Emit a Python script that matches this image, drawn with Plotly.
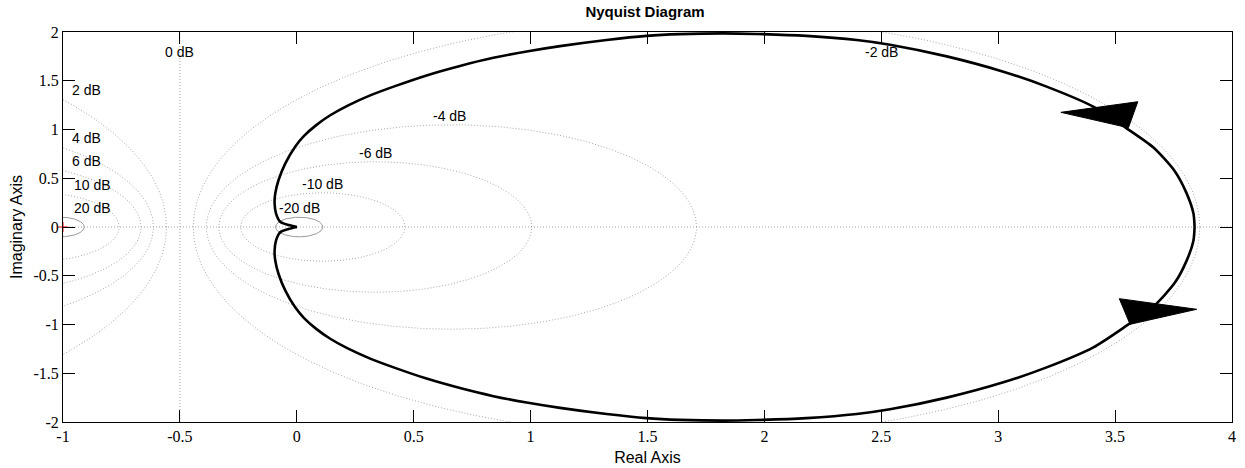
import numpy as np
import plotly.graph_objects as go

# ---- data ----
# Nyquist curve, upper half (from origin to the zero-frequency point)
nyq_re_upper = [0.0, -0.035, -0.071, -0.089, -0.095, -0.092, -0.078, -0.049, -0.007, 0.031,
                0.083, 0.143, 0.22, 0.314, 0.42, 0.555, 0.698, 0.841, 0.983, 1.126,
                1.325, 1.496, 1.639, 1.824, 1.967, 2.18, 2.395, 2.537, 2.78, 3.022,
                3.207, 3.407, 3.549, 3.664, 3.756, 3.806, 3.835, 3.840]
nyq_im_upper = [0.0, 0.02, 0.054, 0.14, 0.243, 0.346, 0.482, 0.653, 0.824, 0.934,
                1.045, 1.146, 1.248, 1.35, 1.445, 1.555, 1.652, 1.735, 1.80, 1.855,
                1.918, 1.96, 1.978, 1.986, 1.98, 1.96, 1.918, 1.87, 1.75, 1.593,
                1.44, 1.234, 1.012, 0.815, 0.57, 0.345, 0.14, 0.0]
# lower half (from the zero-frequency point back to the origin)
nyq_re_lower = [3.840, 3.835, 3.806, 3.756, 3.664, 3.549, 3.407, 3.207, 3.022, 2.78,
                2.537, 2.395, 2.18, 1.967, 1.824, 1.639, 1.496, 1.325, 1.126, 0.983,
                0.841, 0.698, 0.555, 0.42, 0.314, 0.22, 0.143, 0.083, 0.031, -0.007,
                -0.049, -0.078, -0.092, -0.095, -0.089, -0.071, -0.035, 0.0]
nyq_im_lower = [0.0, -0.14, -0.345, -0.57, -0.815, -1.012, -1.234, -1.44, -1.593, -1.75,
                -1.87, -1.918, -1.96, -1.98, -1.986, -1.978, -1.96, -1.918, -1.855, -1.80,
                -1.735, -1.652, -1.555, -1.445, -1.35, -1.248, -1.146, -1.045, -0.934, -0.824,
                -0.653, -0.482, -0.346, -0.243, -0.14, -0.054, -0.02, 0.0]

# direction arrows (triangle vertices: tip, base corner, base corner)
arrow_up_re = [3.268, 3.597, 3.557]
arrow_up_im = [1.176, 1.285, 1.018]
arrow_dn_re = [3.849, 3.518, 3.564]
arrow_dn_im = [-0.844, -0.735, -0.998]

# M-circle grid levels (dB) and their label positions
m_db = [20, 10, 6, 4, 2, -2, -4, -6, -10, -20]
label_text = ["0 dB", "2 dB", "4 dB", "6 dB", "10 dB", "20 dB",
              "-2 dB", "-4 dB", "-6 dB", "-10 dB", "-20 dB"]
label_x = [-0.5, -0.97, -0.97, -0.97, -0.96, -0.96, 2.50, 0.655, 0.335, 0.11, 0.01]
label_y = [1.79, 1.405, 0.91, 0.68, 0.43, 0.195, 1.79, 1.14, 0.76, 0.44, 0.195]
label_anchor = ["center", "left", "left", "left", "left", "left",
                "center", "center", "center", "center", "center"]

x_ticks = [-1, -0.5, 0, 0.5, 1, 1.5, 2, 2.5, 3, 3.5, 4]
y_ticks = [2, 1.5, 1, 0.5, 0, -0.5, -1, -1.5, -2]

SANS = "Liberation Sans"
SERIF = "Liberation Serif"

fig = go.Figure()

# M-circles
theta = np.linspace(0, 2 * np.pi, 721)
for db in m_db:
    M = 10 ** (db / 20)
    c = -M ** 2 / (M ** 2 - 1)
    r = abs(M / (M ** 2 - 1))
    small = abs(db) >= 20
    fig.add_trace(go.Scatter(
        x=c + r * np.cos(theta), y=r * np.sin(theta), mode="lines",
        line=dict(color="#9a9a9a" if small else "#a8a8a8", width=1,
                  dash="solid" if small else "1px,2px"),
        hoverinfo="skip", showlegend=False))

# 0 dB line and real axis
fig.add_trace(go.Scatter(x=[-0.5, -0.5], y=[-2, 2], mode="lines",
                         line=dict(color="#a8a8a8", width=1, dash="1px,2px"),
                         hoverinfo="skip", showlegend=False))
fig.add_trace(go.Scatter(x=[-1, 4], y=[0, 0], mode="lines",
                         line=dict(color="#a8a8a8", width=1, dash="1px,2px"),
                         hoverinfo="skip", showlegend=False))

# Nyquist curve
for xs, ys in [(nyq_re_upper, nyq_im_upper), (nyq_re_lower, nyq_im_lower)]:
    fig.add_trace(go.Scatter(x=xs, y=ys, mode="lines",
                             line=dict(color="black", width=2.6, shape="spline", smoothing=0.7),
                             showlegend=False))

# arrows
for ax_, ay_ in [(arrow_up_re, arrow_up_im), (arrow_dn_re, arrow_dn_im)]:
    fig.add_trace(go.Scatter(x=ax_ + [ax_[0]], y=ay_ + [ay_[0]], mode="lines",
                             fill="toself", fillcolor="black",
                             line=dict(color="black", width=1),
                             hoverinfo="skip", showlegend=False))

# critical point
fig.add_trace(go.Scatter(x=[-1], y=[0], mode="markers",
                         marker=dict(symbol="cross-thin", size=7,
                                     line=dict(color="red", width=1)),
                         cliponaxis=False, showlegend=False))

# dB labels
for t, lx, ly, la in zip(label_text, label_x, label_y, label_anchor):
    fig.add_annotation(x=lx, y=ly, text=t, showarrow=False, xanchor=la, yanchor="middle",
                       font=dict(family=SANS, size=14, color="black"))

axis_common = dict(showgrid=False, zeroline=False, showline=True, linecolor="black",
                   linewidth=1, mirror="ticks", ticks="inside", ticklen=12,
                   tickcolor="black", tickwidth=1, automargin=False,
                   tickfont=dict(family=SERIF, size=16, color="black"))

fig.update_layout(
    width=1245, height=468,
    margin=dict(l=63, r=13, t=32, b=46, autoexpand=False),
    paper_bgcolor="white", plot_bgcolor="white",
    font=dict(family=SANS, color="black"),
    title=dict(text="<b>Nyquist Diagram</b>", x=645 / 1245, xanchor="center",
               y=1 - 12 / 468, yanchor="middle", automargin=False,
               font=dict(family=SANS, size=15, color="black")),
    xaxis=dict(range=[-1, 4], tickvals=x_ticks, ticktext=[f"{v:g}" for v in x_ticks],
               title=dict(text="Real Axis", standoff=7,
                          font=dict(family=SANS, size=16, color="black")),
               **axis_common),
    yaxis=dict(range=[-2, 2], tickvals=y_ticks, ticktext=[f"{v:g}" for v in y_ticks],
               title=dict(text="Imaginary Axis", standoff=6,
                          font=dict(family=SANS, size=16, color="black")),
               **axis_common),
)

fig.write_html("out.html", config={"displayModeBar": False},
               post_script="document.body.style.margin='0';document.body.style.overflow='hidden';")
